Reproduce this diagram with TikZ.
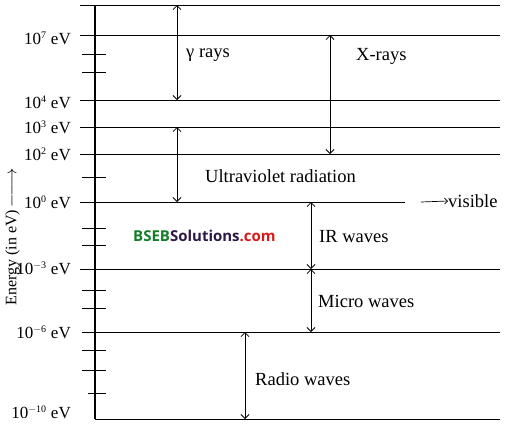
\documentclass[tikz,border=0pt]{standalone}
\usepackage{fontspec}
\setmainfont{Liberation Serif}
\newfontfamily\wmfont{Open Sans}
\usetikzlibrary{arrows.meta}
\definecolor{wmgreen}{RGB}{20,125,40}
\definecolor{wmpurple}{RGB}{45,25,70}
\definecolor{wmred}{RGB}{215,25,25}
\tikzset{
  level/.style={line width=0.9pt},
  tickmark/.style={line width=0.9pt},
  band/.style={line width=0.8pt,{Straight Barb[length=4pt,width=8pt]}-{Straight Barb[length=4pt,width=8pt]}},
  lab/.style={font=\fontsize{18.5}{20}\selectfont,inner sep=0pt},
  ylab/.style={font=\fontsize{17}{19}\selectfont,inner sep=0pt,anchor=east},
}
\newcommand{\pw}[1]{\textsuperscript{\fontsize{10}{10}\selectfont #1}}
\begin{document}
\begin{tikzpicture}[x=1pt,y=-1pt]
\useasboundingbox (0,0) rectangle (508,424);
% level coordinates
\foreach \n/\y/\xs/\xe in {top/5/80/500, L7/35/80/500, L4/100/80/500, L3/127/80/500, L2/154/80/500, L0/202/80/405, Lm3/269/80/500, Lm6/332/82/500, Lm10/419/95/500}{
  \coordinate (\n-w) at (\xs,\y);
  \coordinate (\n-e) at (\xe,\y);
  \draw[level] (\n-w) -- (\n-e);
}
% axis
\coordinate (ax-t) at (95,5);
\coordinate (ax-b) at (95,419);
\draw[line width=1.1pt] (ax-t) -- (ax-b);
% ticks
\foreach \y/\xs in {54/82,72/82,177/82,228/82,245/82,290/82,308/82,350/82,370/82,393/88}{
  \draw[tickmark] (\xs,\y) -- (106,\y);
}
% energy labels
\node[ylab] (t7) at (71,38) {10\pw{7} eV};
\node[ylab] (t4) at (71,102) {10\pw{4} eV};
\node[ylab] (t3) at (71,127) {10\pw{3} eV};
\node[ylab] (t2) at (71,154) {10\pw{2} eV};
\node[ylab] (t0) at (71,202) {10\pw{0} eV};
\node[ylab] (tm3) at (71,268) {10\pw{$-$3} eV};
\node[ylab] (tm6) at (71,332) {10\pw{$-$6} eV};
\node[ylab] (tm10) at (71,412) {10\pw{$-$10} eV};
% axis title
\node[inner sep=0pt,font=\fontsize{16}{18}\selectfont,rotate=90] (etitle) at (12.5,237) {Energy (in eV)\,$\relbar\joinrel\longrightarrow$};
% band arrows
\coordinate (g-t) at (177,5);   \coordinate (g-b) at (177,100);
\coordinate (x-t) at (330,35);  \coordinate (x-b) at (330,154);
\coordinate (u-t) at (177,127); \coordinate (u-b) at (177,202);
\coordinate (i-t) at (311,202); \coordinate (i-b) at (311,269);
\coordinate (m-t) at (311,269); \coordinate (m-b) at (311,332);
\coordinate (r-t) at (245,332); \coordinate (r-b) at (245,419);
\draw[band] (g-t) -- (g-b);
\draw[band] (x-t) -- (x-b);
\draw[band] (u-t) -- (u-b);
\draw[band] (i-t) -- (i-b);
\draw[band] (m-t) -- (m-b);
\draw[band] (r-t) -- (r-b);
% band labels
\node[lab,anchor=west] (gl) at (186,55) {γ rays};
\node[lab,anchor=west] (xl) at (356,56) {X-rays};
\node[lab,anchor=west] (ul) at (205,176) {Ultraviolet radiation};
\node[lab,anchor=west] (il) at (319,237) {IR waves};
\node[lab,anchor=west] (ml) at (318,301) {Micro waves};
\node[lab,anchor=west] (rl) at (255,379) {Radio waves};
% visible
\coordinate (v-s) at (421,202);
\node[lab,anchor=west] (vis) at (448,201) {visible};
\draw[line width=0.7pt,-{Straight Barb[length=3pt,width=6pt]}] (v-s) -- (vis.west);
% watermark
\node[inner sep=0pt,anchor=west,font=\wmfont\bfseries\fontsize{15}{17}\selectfont] (wm) at (133,236)
  {\textcolor{wmgreen}{BSEB}\textcolor{wmpurple}{Solutions}\textcolor{wmred}{.com}};
\end{tikzpicture}
\end{document}
